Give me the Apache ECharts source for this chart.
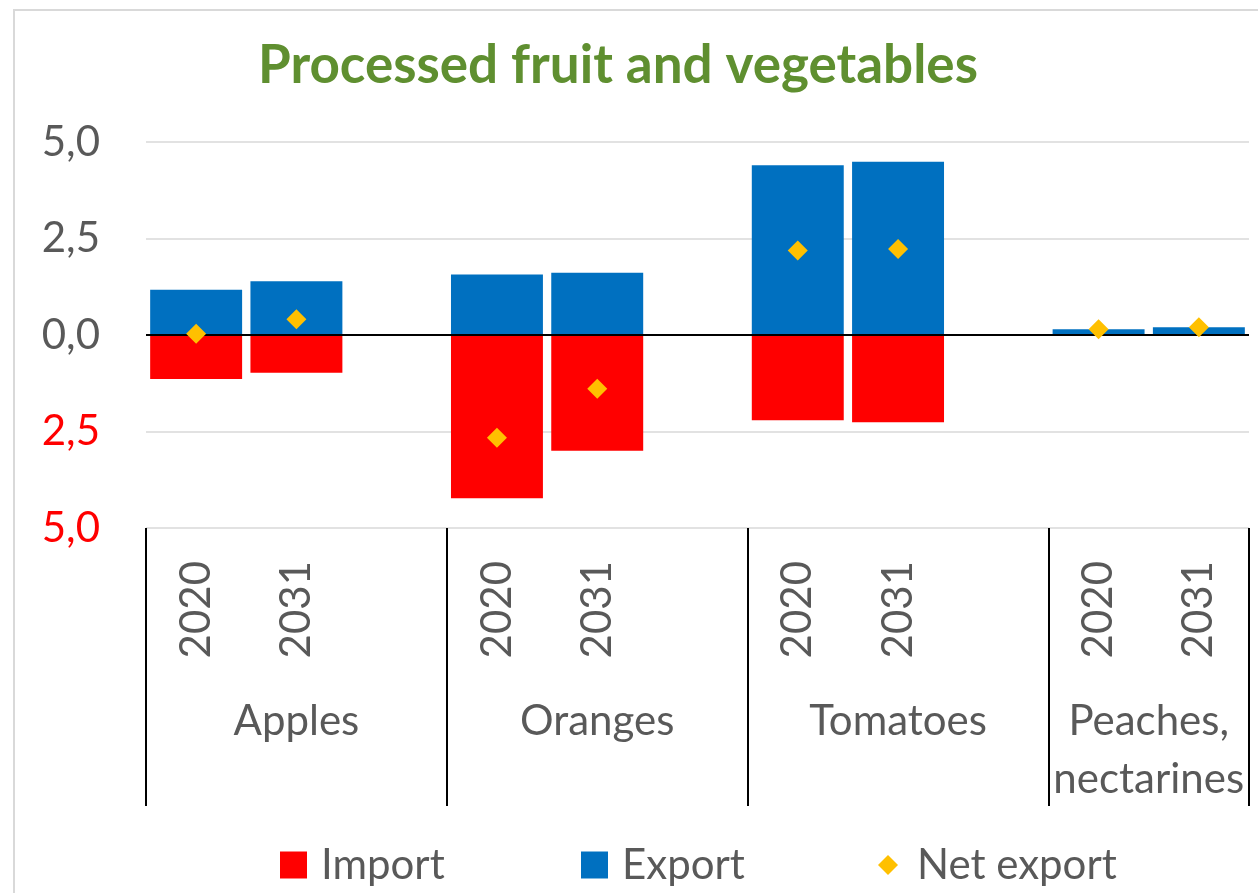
<!DOCTYPE html>
<html>
<head>
<meta charset="utf-8">
<title>Processed fruit and vegetables</title>
<script src="https://cdn.jsdelivr.net/npm/echarts@6/dist/echarts.min.js"></script>
<style>
  html, body { margin: 0; padding: 0; background: #ffffff; }
  #chart { width: 1258px; height: 893px; }
</style>
</head>
<body>
<div id="chart"></div>
<script>
// data
const groups = ['Apples', 'Oranges', 'Tomatoes', 'Peaches,\nnectarines'];
const years = ['2020', '2031'];
// per group: 2020, 2031
const importValues = [-1.14, -0.98, -4.23, -3.00, -2.21, -2.26, 0.00, 0.00];
const exportValues = [1.17, 1.39, 1.57, 1.61, 4.40, 4.49, 0.15, 0.20];
const netValues = [0.03, 0.41, -2.66, -1.39, 2.19, 2.23, 0.15, 0.20];
const yTicks = [-5, -2.5, 0, 2.5, 5];

const labelFont = 'Lato';
const textColor = '#595959';

// build the category list: years of each group, a blank slot between groups
const categories = [];
const imp = [], exp = [], net = [];
const groupCenters = [];   // in category units, for the group labels
const groupEdges = [0];    // separator lines
groups.forEach((g, gi) => {
  const start = categories.length;
  years.forEach((y, yi) => {
    const k = gi * years.length + yi;
    categories.push(y);
    imp.push(importValues[k]);
    exp.push(exportValues[k]);
    net.push(netValues[k]);
  });
  if (gi < groups.length - 1) {
    categories.push('');
    imp.push('-'); exp.push('-'); net.push('-');
  }
  groupCenters.push((start + categories.length) / 2);
  groupEdges.push(categories.length);
});

const fmtNum = v => Math.abs(v).toFixed(1).replace('.', ',');

const myChart = echarts.init(document.getElementById('chart'));

const legendText = { color: textColor, fontFamily: labelFont, fontSize: 42 };

const option = {
  backgroundColor: '#ffffff',
  animation: false,
  title: {
    text: 'Processed fruit and vegetables',
    left: 253,
    top: 34,
    textStyle: {
      color: '#5f8f30',
      fontFamily: labelFont,
      fontWeight: 'bold',
      fontSize: 53
    }
  },
  graphic: [{
    type: 'rect',
    silent: true,
    shape: { x: 14, y: 10, width: 1400, height: 1000 },
    style: { fill: 'none', stroke: '#d9d9d9', lineWidth: 2 }
  }],
  legend: [
    {
      data: [{ name: 'Import', icon: 'rect' }],
      left: 275, top: 839,
      itemWidth: 27, itemHeight: 27,
      textStyle: Object.assign({ padding: [0, 0, 0, 9] }, legendText)
    },
    {
      data: [{ name: 'Export', icon: 'rect' }],
      left: 576, top: 839,
      itemWidth: 27, itemHeight: 27,
      textStyle: Object.assign({ padding: [0, 0, 0, 9] }, legendText)
    },
    {
      data: [{ name: 'Net export', icon: 'diamond', itemStyle: { opacity: 1 } }],
      left: 873, top: 839,
      itemWidth: 20, itemHeight: 20,
      textStyle: Object.assign({ padding: [0, 0, 0, 14] }, legendText)
    }
  ],
  grid: {
    left: 146,
    right: 9,
    top: 142,
    bottom: 365,
    containLabel: false,
    outerBoundsMode: 'none'
  },
  xAxis: [
    {
      // years
      type: 'category',
      data: categories,
      position: 'bottom',
      axisLine: { show: false },
      axisTick: { show: false },
      splitLine: { show: false },
      axisLabel: {
        interval: 0,
        rotate: 90,
        margin: 33,
        color: textColor,
        fontFamily: labelFont,
        fontSize: 42
      }
    },
    {
      // groups + separator lines
      type: 'value',
      min: 0,
      max: categories.length,
      position: 'bottom',
      axisLine: { show: false },
      splitLine: { show: false },
      axisTick: {
        show: true,
        customValues: groupEdges,
        length: 278,
        lineStyle: { color: '#000000', width: 2 }
      },
      axisLabel: {
        customValues: groupCenters,
        margin: 164,
        color: textColor,
        fontFamily: labelFont,
        fontSize: 42,
        lineHeight: 58,
        formatter: function (v) {
          const i = groupCenters.indexOf(v);
          return i >= 0 ? groups[i] : '';
        }
      }
    }
  ],
  yAxis: {
    type: 'value',
    min: yTicks[0],
    max: yTicks[yTicks.length - 1],
    interval: 2.5,
    axisLine: { show: false },
    axisTick: { show: false },
    splitLine: { lineStyle: { color: '#d9d9d9', width: 1.5 } },
    axisLabel: {
      margin: 46,
      color: textColor,
      fontFamily: labelFont,
      fontSize: 42,
      formatter: function (v) {
        return v < 0 ? '{neg|' + fmtNum(v) + '}' : fmtNum(v);
      },
      rich: {
        neg: { color: '#ff0000', fontFamily: labelFont, fontSize: 42 }
      }
    }
  },
  series: [
    {
      name: 'Import',
      type: 'bar',
      stack: 'trade',
      data: imp,
      barCategoryGap: '8.3%',
      itemStyle: { color: '#ff0000' }
    },
    {
      name: 'Export',
      type: 'bar',
      stack: 'trade',
      data: exp,
      barCategoryGap: '8.3%',
      itemStyle: { color: '#0070c0' },
      markLine: {
        silent: true,
        symbol: ['none', 'none'],
        label: { show: false },
        lineStyle: { color: '#000000', width: 2, type: 'solid' },
        data: [{ yAxis: 0 }]
      }
    },
    {
      name: 'Net export',
      type: 'scatter',
      data: net,
      symbol: 'diamond',
      symbolSize: 20,
      itemStyle: { color: '#ffc000', opacity: 1 },
      z: 5
    }
  ]
};

myChart.setOption(option);

window.addEventListener('resize', () => {
  myChart.resize();
});
</script>
</body>
</html>
